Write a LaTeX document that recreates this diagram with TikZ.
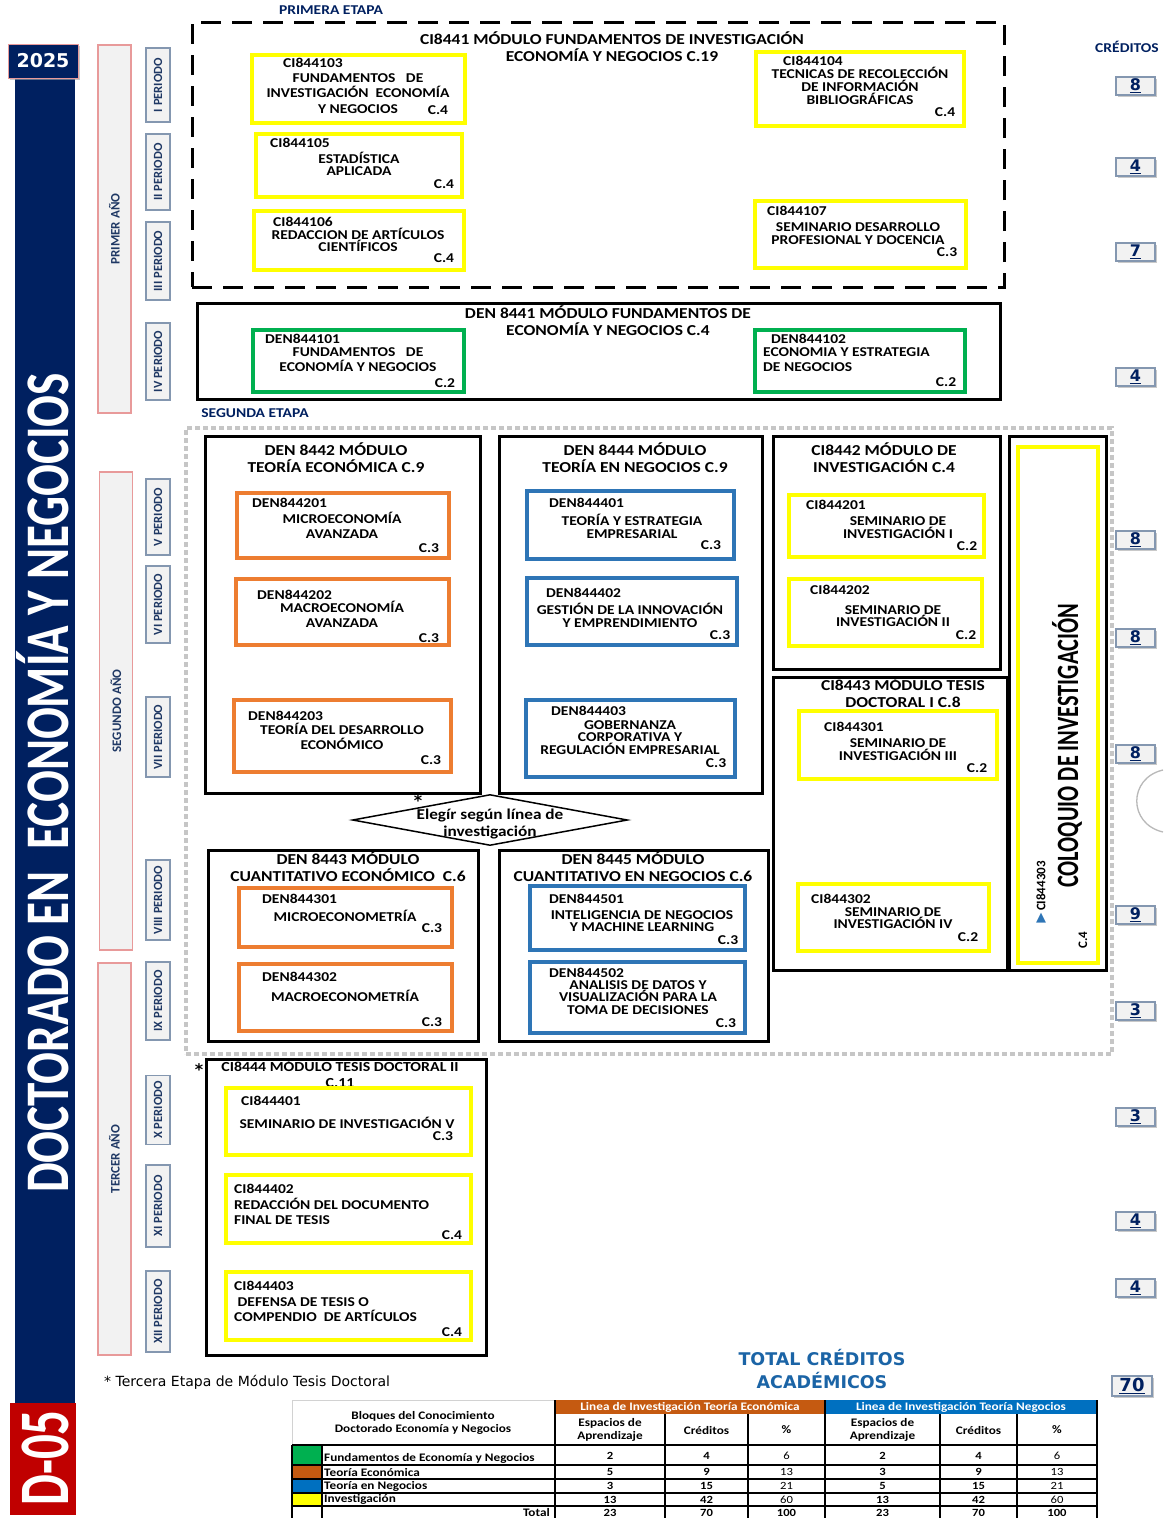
\documentclass[tikz,border=0pt]{standalone}
\usepackage{fontspec}
\usetikzlibrary{fit,shapes.geometric,shadows}
\newfontfamily\cb[FakeStretch=1.15]{Carlito}
\newfontfamily\cbn{Carlito}
\newfontfamily\dvs{DejaVu Sans}
\definecolor{navy}{HTML}{002060}
\definecolor{lblnavy}{HTML}{1F3864}
\definecolor{cy}{HTML}{FFFF00}
\definecolor{cg}{HTML}{00B050}
\definecolor{co}{HTML}{ED7D31}
\definecolor{cbl}{HTML}{2E75B6}
\definecolor{pbord}{HTML}{8497B0}
\definecolor{ybord}{HTML}{E89A9A}
\definecolor{lgray}{HTML}{F2F2F2}
\definecolor{dred}{HTML}{C00000}
\definecolor{torange}{HTML}{C55A11}
\definecolor{tblue}{HTML}{0070C0}
\definecolor{totblue}{HTML}{1B64A6}
\tikzset{
  every node/.style={inner sep=0pt},
  ybox/.style={draw=cy, line width=4pt},
  gbox/.style={draw=cg, line width=4pt},
  obox/.style={draw=co, line width=3.5pt},
  bbox/.style={draw=cbl, line width=3.5pt},
  modbox/.style={draw=black, line width=3pt},
  bt/.style={font=\cb\bfseries\fontsize{13.5}{#1}\selectfont, align=center},
  bt/.default=14,
  mt/.style={font=\cb\bfseries\fontsize{15.2}{17}\selectfont, align=center},
  cd/.style={font=\cb\bfseries\fontsize{13.5}{14}\selectfont, anchor=west},
  perbox/.style={draw=pbord, fill=lgray, line width=1.2pt, minimum height=24, rotate=90, text=lblnavy, font=\cbn\bfseries\fontsize{12.5}{13}\selectfont},
  yearbox/.style={draw=ybord, fill=lgray, line width=1.2pt, minimum height=33, rotate=90, text=lblnavy, font=\cbn\bfseries\fontsize{13}{13}\selectfont},
  crbox/.style={draw=pbord, fill=lgray, line width=1.2pt, minimum width=39, minimum height=18, text=navy, font=\dvs\bfseries\fontsize{16}{16}\selectfont, drop shadow={shadow xshift=1.5pt, shadow yshift=-1.5pt, fill=gray!70, opacity=0.6}},
  tline/.style={draw=black, line width=1.4pt},
  tt/.style={font=\cb\bfseries\fontsize{11.5}{13}\selectfont, align=center},
  tn/.style={font=\cb\bfseries\fontsize{11}{12}\selectfont},
  tp/.style={font=\cb\fontsize{11}{12}\selectfont},
}
\begin{document}
\begin{tikzpicture}[x=1pt,y=-1pt]
\useasboundingbox (0,0) rectangle (1163,1518);
\node[fill=white, fit={(0,0)(1163,1518)}] (bg) {};

% ---------- left column ----------
\node[fill=navy, fit={(15,45)(75,1403)}] (bar) {};
\node[rotate=90, anchor=base, text=white, font=\cbn\bfseries\fontsize{62}{62}\selectfont] (title) at (68,783) {\scalebox{0.76}[1]{DOCTORADO EN\ \ ECONOMÍA Y NEGOCIOS}};
\node[fill=navy, draw=ybord, line width=0.8pt, minimum width=70, minimum height=34, text=white, font=\dvs\bfseries\fontsize{19}{19}\selectfont, drop shadow={shadow xshift=1.5pt, shadow yshift=-1.5pt, fill=gray!70, opacity=0.6}] (yr) at (43,61) {2025};
\node[fill=dred, fit={(10,1403)(76,1515)}] (dbox) {};
\node[rotate=90, anchor=base, text=white, font=\cbn\bfseries\fontsize{71}{71}\selectfont] (dtxt) at (68,1458) {\scalebox{0.69}[1]{D-05}};

\node[yearbox, minimum width=368] (y1) at (114.5,229) {PRIMER AÑO};
\node[yearbox, minimum width=478] (y2) at (116,711) {SEGUNDO AÑO};
\node[yearbox, minimum width=392] (y3) at (114.5,1159) {TERCER AÑO};

\node[perbox, minimum width=74] (p1) at (158,85) {I PERIODO};
\node[perbox, minimum width=76] (p2) at (158,172) {II PERIODO};
\node[perbox, minimum width=78] (p3) at (158,261) {III PERIODO};
\node[perbox, minimum width=77] (p4) at (158,361.5) {IV PERIODO};
\node[perbox, minimum width=76] (p5) at (158,517) {V PERIODO};
\node[perbox, minimum width=77] (p6) at (158,604.5) {VI PERIODO};
\node[perbox, minimum width=80] (p7) at (158,737) {VII PERIODO};
\node[perbox, minimum width=80] (p8) at (158,900) {VIII PERIODO};
\node[perbox, minimum width=78] (p9) at (158,1001) {IX PERIODO};
\node[perbox, minimum width=69] (p10) at (158,1110) {X PERIODO};
\node[perbox, minimum width=82] (p11) at (158,1206) {XI PERIODO};
\node[perbox, minimum width=81] (p12) at (158,1311.5) {XII PERIODO};

% ---------- credits column ----------
\node[font=\cb\bfseries\fontsize{13.5}{14}\selectfont, text=navy] (crt) at (1127,47) {CRÉDITOS};
\node[crbox] (k1) at (1135.5,86) {\underline{8}};
\node[crbox] (k2) at (1135.5,167) {\underline{4}};
\node[crbox] (k3) at (1135.5,252) {\underline{7}};
\node[crbox] (k4) at (1135.5,377) {\underline{4}};
\node[crbox] (k5) at (1135.5,540) {\underline{8}};
\node[crbox] (k6) at (1135.5,638) {\underline{8}};
\node[crbox] (k7) at (1135.5,754) {\underline{8}};
\node[crbox] (k8) at (1135.5,915) {\underline{9}};
\node[crbox] (k9) at (1135.5,1011) {\underline{3}};
\node[crbox] (k10) at (1135.5,1117) {\underline{3}};
\node[crbox] (k11) at (1135.5,1221) {\underline{4}};
\node[crbox] (k12) at (1135.5,1288) {\underline{4}};
\node[crbox, minimum width=40, minimum height=20, font=\dvs\bfseries\fontsize{18}{18}\selectfont] (k13) at (1132,1386) {\underline{70}};
\draw[gray!55, line width=1.3pt] (1163,770) .. controls (1128,778) and (1128,824) .. (1163,832);

% ---------- primera etapa ----------
\node[font=\cb\bfseries\fontsize{13.5}{14}\selectfont, text=navy] (pe) at (331,10) {PRIMERA ETAPA};
\node[draw=black, line width=3pt, dash pattern=on 20pt off 11pt, fit={(192,22)(1004,287)}] (etapa1) {};
\node[mt] (m1t) at (612,46.5) {CI8441 MÓDULO FUNDAMENTOS DE INVESTIGACIÓN\\ECONOMÍA Y NEGOCIOS C.19};

\node[ybox, fit={(252,55)(465,123)}] (b103) {};
\node[cd] (b103c) at (283,63) {CI844103};
\node[bt=15.5] (b103t) at (358,93.5) {FUNDAMENTOS~~~DE\\INVESTIGACIÓN~~ECONOMÍA\\Y NEGOCIOS};
\node[bt] (b103k) at (438,110) {C.4};

\node[ybox, fit={(256,134)(462,197)}] (b105) {};
\node[cd] (b105c) at (270,143) {CI844105};
\node[bt=12.5] (b105t) at (359,164) {ESTADÍSTICA\\APLICADA};
\node[bt] (b105k) at (444,184) {C.4};

\node[ybox, fit={(254,211)(464,270)}] (b106) {};
\node[cd] (b106c) at (273,222) {CI844106};
\node[bt=12.5] (b106t) at (358,240) {REDACCION DE ARTÍCULOS\\CIENTÍFICOS};
\node[bt] (b106k) at (444,258) {C.4};

\node[ybox, fit={(756,52)(964,126)}] (b104) {};
\node[cd] (b104c) at (783,61) {CI844104};
\node[bt=13] (b104t) at (860,86) {TECNICAS DE RECOLECCIÓN\\DE INFORMACIÓN\\BIBLIOGRÁFICAS};
\node[bt] (b104k) at (945,112) {C.4};

\node[ybox, fit={(755,201)(966,268)}] (b107) {};
\node[cd] (b107c) at (767,211) {CI844107};
\node[bt=13] (b107t) at (858,233.5) {SEMINARIO DESARROLLO\\PROFESIONAL Y DOCENCIA};
\node[bt] (b107k) at (947,252) {C.3};

\node[modbox, fit={(197,303)(1000,399)}] (m8441) {};
\node[mt] (m8441t) at (608,320.5) {DEN 8441 MÓDULO FUNDAMENTOS DE\\ECONOMÍA Y NEGOCIOS C.4};

\node[gbox, fit={(253,330)(464,392)}] (b4101) {};
\node[cd] (b4101c) at (265,339) {DEN844101};
\node[bt=15] (b4101t) at (358,359.5) {FUNDAMENTOS~~~DE\\ECONOMÍA Y NEGOCIOS};
\node[bt] (b4101k) at (445,383) {C.2};

\node[gbox, fit={(755,330)(965,392)}] (b4102) {};
\node[cd] (b4102c) at (771,339) {DEN844102};
\node[bt=15, align=left, anchor=west] (b4102t) at (763,359.5) {ECONOMIA Y ESTRATEGIA\\DE NEGOCIOS};
\node[bt] (b4102k) at (946,382) {C.2};

% ---------- segunda etapa ----------
\node[font=\cb\bfseries\fontsize{13.5}{14}\selectfont, text=navy] (se) at (255,413) {SEGUNDA ETAPA};
\node[draw=gray!45, line width=3.5pt, dash pattern=on 5pt off 3pt, fit={(186,428)(1112,1054)}] (etapa2) {};

\node[modbox, fit={(205,436)(480,793)}] (m8442) {};
\node[mt] (m8442t) at (336,457.5) {DEN 8442 MÓDULO\\TEORÍA ECONÓMICA C.9};
\node[obox, fit={(237,493)(449,558)}] (b201) {};
\node[cd] (b201c) at (252,503) {DEN844201};
\node[bt=15] (b201t) at (342,525.5) {MICROECONOMÍA\\AVANZADA};
\node[bt] (b201k) at (429,548) {C.3};
\node[obox, fit={(236,579)(449,645)}] (b202) {};
\node[cd] (b202c) at (257,595) {DEN844202};
\node[bt=15] (b202t) at (342,614.5) {MACROECONOMÍA\\AVANZADA};
\node[bt] (b202k) at (429,638) {C.3};
\node[obox, fit={(234,700)(451,772)}] (b203) {};
\node[cd] (b203c) at (248,716) {DEN844203};
\node[bt=15] (b203t) at (342,736.5) {TEORÍA DEL DESARROLLO\\ECONÓMICO};
\node[bt] (b203k) at (431,760) {C.3};

\node[modbox, fit={(499,436)(762,793)}] (m8444) {};
\node[mt] (m8444t) at (635,457.5) {DEN 8444 MÓDULO\\TEORÍA EN NEGOCIOS C.9};
\node[bbox, fit={(527,491)(734,559)}] (b401) {};
\node[cd] (b401c) at (549,503) {DEN844401};
\node[bt=13] (b401t) at (632,526.5) {TEORÍA Y ESTRATEGIA\\EMPRESARIAL};
\node[bt] (b401k) at (711,545) {C.3};
\node[bbox, fit={(527,578)(737,645)}] (b402) {};
\node[cd] (b402c) at (546,593) {DEN844402};
\node[bt=13] (b402t) at (630,615.5) {GESTIÓN DE LA INNOVACIÓN\\Y EMPRENDIMIENTO};
\node[bt] (b402k) at (720,635) {C.3};
\node[bbox, fit={(526,700)(735,777)}] (b403) {};
\node[cd] (b403c) at (551,711) {DEN844403};
\node[bt=12.5] (b403t) at (630,737.5) {GOBERNANZA\\CORPORATIVA Y\\REGULACIÓN EMPRESARIAL};
\node[bt] (b403k) at (716,763) {C.3};

\node[modbox, fit={(773,436)(1000,669)}] (m8442i) {};
\node[mt] (m8442it) at (884,457.5) {CI8442 MÓDULO DE\\INVESTIGACIÓN C.4};
\node[ybox, fit={(789,495)(984,557)}] (c201) {};
\node[cd] (c201c) at (806,505) {CI844201};
\node[bt=13] (c201t) at (898,527.5) {SEMINARIO DE\\INVESTIGACIÓN I};
\node[bt] (c201k) at (967,546) {C.2};
\node[ybox, fit={(789,579)(982,646)}] (c202) {};
\node[cd] (c202c) at (810,590) {CI844202};
\node[bt=12] (c202t) at (893,616) {SEMINARIO DE\\INVESTIGACIÓN II};
\node[bt] (c202k) at (966,635) {C.2};

\node[modbox, fit={(773,677)(1007,970)}] (m8443) {};
\node[mt] (m8443t) at (903,693) {CI8443 MÓDULO TESIS\\DOCTORAL I C.8};
\node[ybox, fit={(799,711)(997,779)}] (c301) {};
\node[cd] (c301c) at (824,727) {CI844301};
\node[bt=13] (c301t) at (898,749.5) {SEMINARIO DE\\INVESTIGACIÓN III};
\node[bt] (c301k) at (977,768) {C.2};
\node[ybox, fit={(798,884)(989,951)}] (c302) {};
\node[cd] (c302c) at (811,899) {CI844302};
\node[bt=12] (c302t) at (893,918) {SEMINARIO DE\\INVESTIGACIÓN IV};
\node[bt] (c302k) at (968,937) {C.2};

\node[modbox, fit={(1009,436)(1106,970)}] (mcol) {};
\node[ybox, fit={(1018,447)(1098,963)}] (col) {};
\node[rotate=90, anchor=base, font=\cbn\bfseries\fontsize{31}{31}\selectfont] (colt) at (1078,746) {\scalebox{0.72}[1]{COLOQUIO DE INVESTIGACIÓN}};
\node[rotate=90, font=\cbn\bfseries\fontsize{13}{13}\selectfont] (colc) at (1041,886) {CI844303};
\node[text=cbl, font=\dvs\fontsize{13}{13}\selectfont] (tri) at (1041,918) {▲};
\node[rotate=90, font=\cbn\bfseries\fontsize{13}{13}\selectfont] (colk) at (1083,940) {C.4};

\node[diamond, draw=black, line width=1.5pt, fill=white, minimum width=275, minimum height=51] (dia) at (490,820) {};
\node[font=\cb\bfseries\fontsize{15}{17}\selectfont, align=center] (diat) at (490,824) {Elegír según línea de\\investigación};
\node[font=\dvs\bfseries\fontsize{16}{16}\selectfont] (ast1) at (418,801) {*};

\node[modbox, fit={(208,850)(478,1041)}] (m8443e) {};
\node[mt] (m8443et) at (348,866.5) {DEN 8443 MÓDULO\\CUANTITATIVO ECONÓMICO~ C.6};
\node[obox, fit={(239,888)(452,947)}] (b301) {};
\node[cd] (b301c) at (262,899) {DEN844301};
\node[bt] (b301t) at (345,916) {MICROECONOMETRÍA};
\node[bt] (b301k) at (432,928) {C.3};
\node[obox, fit={(239,964)(452,1031)}] (b302) {};
\node[cd] (b302c) at (262,977) {DEN844302};
\node[bt] (b302t) at (345,996) {MACROECONOMETRÍA};
\node[bt] (b302k) at (432,1022) {C.3};

\node[modbox, fit={(499,850)(768,1041)}] (m8445) {};
\node[mt] (m8445t) at (633,866.5) {DEN 8445 MÓDULO\\CUANTITATIVO EN NEGOCIOS C.6};
\node[bbox, fit={(530,886)(745,950)}] (b501) {};
\node[cd] (b501c) at (549,899) {DEN844501};
\node[bt=12] (b501t) at (642,921) {INTELIGENCIA DE NEGOCIOS\\Y MACHINE LEARNING};
\node[bt] (b501k) at (728,940) {C.3};
\node[bbox, fit={(530,962)(745,1033)}] (b502) {};
\node[cd] (b502c) at (549,973) {DEN844502};
\node[bt=12.5] (b502t) at (638,997.5) {ANALISIS DE DATOS Y\\VISUALIZACIÓN PARA LA\\TOMA DE DECISIONES};
\node[bt] (b502k) at (726,1023) {C.3};

% ---------- tercera etapa ----------
\node[modbox, fit={(206,1059)(486,1355)}] (m8444t) {};
\node[font=\dvs\bfseries\fontsize{16}{16}\selectfont] (ast2) at (199,1070) {*};
\node[font=\cb\bfseries\fontsize{13.8}{16}\selectfont, align=center] (m8444tt) at (340,1074) {CI8444 MÓDULO TESIS DOCTORAL II\\C.11};
\node[ybox, fit={(226,1088)(471,1155)}] (t401) {};
\node[cd] (t401c) at (241,1101) {CI844401};
\node[bt] (t401t) at (347,1123) {SEMINARIO DE INVESTIGACIÓN V};
\node[bt] (t401k) at (443,1136) {C.3};
\node[ybox, fit={(226,1175)(471,1243)}] (t402) {};
\node[cd] (t402c) at (234,1189) {CI844402};
\node[bt=15, align=left, anchor=west] (t402t) at (234,1211.5) {REDACCIÓN DEL DOCUMENTO\\FINAL DE TESIS};
\node[bt] (t402k) at (452,1235) {C.4};
\node[ybox, fit={(226,1272)(471,1340)}] (t403) {};
\node[cd] (t403c) at (234,1286) {CI844403};
\node[bt=15, align=left, anchor=west] (t403t) at (234,1309.5) {~DEFENSA DE TESIS O\\COMPENDIO~~DE ARTÍCULOS};
\node[bt] (t403k) at (452,1332) {C.4};

\node[anchor=west, font=\dvs\fontsize{14}{14}\selectfont] (foot) at (104,1382) {* Tercera Etapa de Módulo Tesis Doctoral};
\node[text=totblue, font=\dvs\bfseries\fontsize{17.5}{23}\selectfont, align=center] (tot) at (822,1368.5) {TOTAL CRÉDITOS\\ACADÉMICOS};

% ---------- table ----------
\node[fill=torange, fit={(555,1400)(825,1414)}] (hte) {};
\node[fill=tblue, fit={(825,1400)(1097,1414)}] (htn) {};
\node[tt, text=white] (htet) at (690,1407.5) {Linea de Investigación Teoría Económica};
\node[tt, text=white] (htnt) at (961,1407.5) {Linea de Investigación Teoría Negocios};
\draw[gray!35, line width=1pt] (292,1445) -- (292,1400) -- (555,1400);
\node[fill=cg, fit={(292,1445)(322,1465)}] (sw1) {};
\node[fill=torange, fit={(292,1465)(322,1479)}] (sw2) {};
\node[fill=tblue, fit={(292,1479)(322,1493)}] (sw3) {};
\node[fill=cy, fit={(292,1493)(322,1506)}] (sw4) {};
\foreach \yy in {1445,1465,1479,1493,1506} \draw[tline] (292,\yy) -- (1097,\yy);
\foreach \xx in {292,322} \draw[tline] (\xx,1445) -- (\xx,1518);
\foreach \xx in {555,825,1097} \draw[tline] (\xx,1400) -- (\xx,1518);
\foreach \xx in {665,748,940,1017} \draw[tline] (\xx,1414) -- (\xx,1518);

\node[tt] (hblk) at (423,1422.5) {Bloques del Conocimiento\\Doctorado Economía y Negocios};
\node[tt] (hesp1) at (610,1429.5) {Espacios de\\Aprendizaje};
\node[tt] (hcr1) at (706.5,1430) {Créditos};
\node[tt] (hpc1) at (786.5,1430) {\%};
\node[tt] (hesp2) at (882.5,1429.5) {Espacios de\\Aprendizaje};
\node[tt] (hcr2) at (978.5,1430) {Créditos};
\node[tt] (hpc2) at (1057,1430) {\%};

\node[tt, anchor=west] (r1) at (324,1458) {Fundamentos de Economía y Negocios};
\node[tt, anchor=west] (r2) at (324,1472) {Teoría Económica};
\node[tt, anchor=west] (r3) at (324,1486) {Teoría en Negocios};
\node[tt, anchor=west] (r4) at (324,1499.5) {Investigación};
\node[tt, anchor=east] (r5) at (550,1512.5) {Total};

\node[tn] (a11) at (610,1455.5) {2};
\node[tn] (a12) at (706.5,1455.5) {4};
\node[tp] (a13) at (786.5,1455.5) {6};
\node[tn] (a21) at (610,1472) {5};
\node[tn] (a22) at (706.5,1472) {9};
\node[tp] (a23) at (786.5,1472) {13};
\node[tn] (a31) at (610,1486) {3};
\node[tn] (a32) at (706.5,1486) {15};
\node[tp] (a33) at (786.5,1486) {21};
\node[tn] (a41) at (610,1499.5) {13};
\node[tn] (a42) at (706.5,1499.5) {42};
\node[tp] (a43) at (786.5,1499.5) {60};
\node[tn] (a51) at (610,1512.5) {23};
\node[tn] (a52) at (706.5,1512.5) {70};
\node[tn] (a53) at (786.5,1512.5) {100};

\node[tn] (b11) at (882.5,1455.5) {2};
\node[tn] (b12) at (978.5,1455.5) {4};
\node[tp] (b13) at (1057,1455.5) {6};
\node[tn] (b21) at (882.5,1472) {3};
\node[tn] (b22) at (978.5,1472) {9};
\node[tp] (b23) at (1057,1472) {13};
\node[tn] (b31) at (882.5,1486) {5};
\node[tn] (b32) at (978.5,1486) {15};
\node[tp] (b33) at (1057,1486) {21};
\node[tn] (b41) at (882.5,1499.5) {13};
\node[tn] (b42) at (978.5,1499.5) {42};
\node[tp] (b43) at (1057,1499.5) {60};
\node[tn] (b51) at (882.5,1512.5) {23};
\node[tn] (b52) at (978.5,1512.5) {70};
\node[tn] (b53) at (1057,1512.5) {100};
\end{tikzpicture}
\end{document}
